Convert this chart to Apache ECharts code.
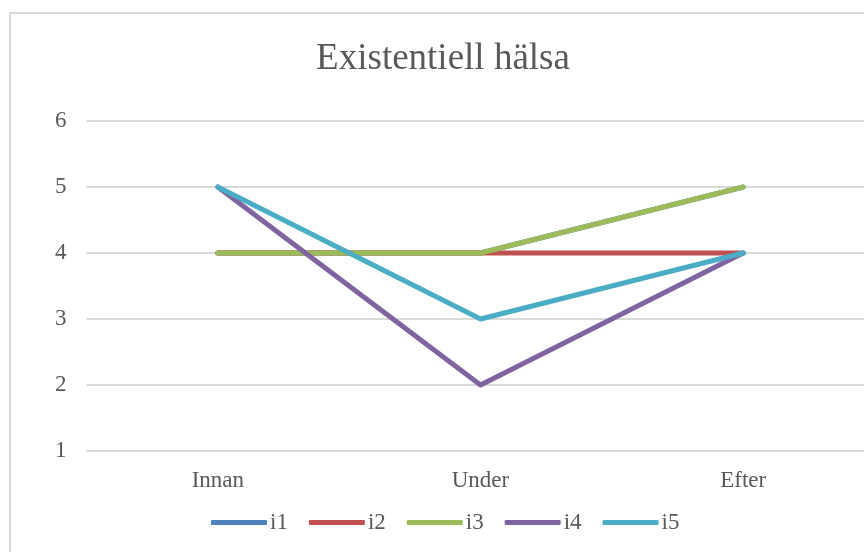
<!DOCTYPE html>
<html>
<head>
<meta charset="utf-8">
<script src="https://cdn.jsdelivr.net/npm/echarts@6/dist/echarts.min.js"></script>
<style>
  html, body { margin: 0; padding: 0; background: #fff; overflow: hidden; }
  #main { width: 900px; height: 552px; }
</style>
</head>
<body>
<div id="main"></div>
<script>
// kategorier och serier
var categories = ['Innan', 'Under', 'Efter'];
var seriesNames = ['i1', 'i2', 'i3', 'i4', 'i5'];
var i1 = [4, 4, 5];
var i2 = [4, 4, 4];
var i3 = [4, 4, 5];
var i4 = [5, 2, 4];
var i5 = [5, 3, 4];
var yTicks = [1, 2, 3, 4, 5, 6];
var colors = ['#4F81BD', '#C0504D', '#9BBB59', '#8064A2', '#4BACC6'];

// diagrammet är bredare än fönstret, högerkanten klipps som i originalet
var chart = echarts.init(document.getElementById('main'));
var font = '"Liberation Serif", "Times New Roman", serif';
var allData = [i1, i2, i3, i4, i5];

var series = seriesNames.map(function (name, k) {
  return {
    name: name,
    type: 'line',
    data: allData[k],
    symbol: 'none',
    color: colors[k],
    lineStyle: { width: 5, cap: 'round', join: 'round', color: colors[k] }
  };
});

var option = {
  animation: false,
  backgroundColor: '#fff',
  color: colors,
  textStyle: { fontFamily: font },
  graphic: [{
    type: 'rect',
    shape: { x: 10, y: 13, width: 900, height: 600 },
    style: { fill: 'none', stroke: '#d9d9d9', lineWidth: 2 },
    silent: true,
    z: -1
  }],
  title: {
    text: 'Existentiell hälsa',
    left: 438,
    top: 36,
    textAlign: 'center',
    textStyle: { fontFamily: font, fontSize: 37, fontWeight: 'normal', color: '#595959' }
  },
  legend: {
    top: 506,
    left: 206,
    icon: 'roundRect',
    itemWidth: 56,
    itemHeight: 5,
    itemGap: 21,
    textStyle: { fontFamily: font, fontSize: 23, color: '#595959', padding: [0, 0, 0, -2] },
    data: seriesNames
  },
  grid: { left: 86.5, width: 788, top: 121, bottom: 101, containLabel: false },
  xAxis: {
    type: 'category',
    data: categories,
    boundaryGap: true,
    axisLine: { show: false },
    axisTick: { show: false },
    axisLabel: { fontFamily: font, fontSize: 23, color: '#595959', margin: 18 }
  },
  yAxis: {
    type: 'value',
    min: yTicks[0],
    max: yTicks[yTicks.length - 1],
    interval: 1,
    axisLine: { show: false },
    axisTick: { show: false },
    axisLabel: { fontFamily: font, fontSize: 23, color: '#595959', margin: 20 },
    splitLine: { lineStyle: { color: '#d9d9d9', width: 2 } }
  },
  series: series
};

chart.setOption(option);
</script>
</body>
</html>
